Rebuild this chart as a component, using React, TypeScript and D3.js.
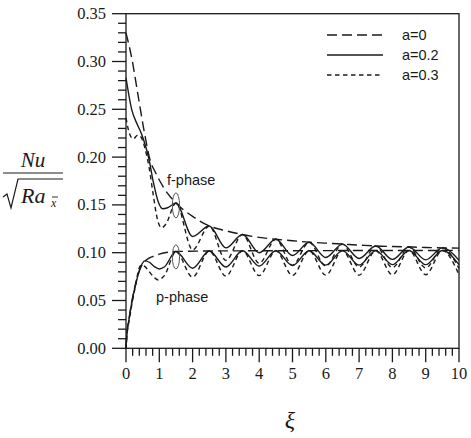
import * as d3 from "d3";

const WIDTH = 471;
const HEIGHT = 438;
const PLOT = { left: 126, right: 459, top: 13.7, bottom: 348.3 };

// xi, Nu / sqrt(Ra) pairs for the f-phase branch
const fPhaseA0: [number, number][] = [
  [0, 0.33], [0.17, 0.304], [0.37, 0.263], [0.52, 0.232], [0.74, 0.195],
  [0.87, 0.185], [1.0, 0.176], [1.25, 0.162], [1.5, 0.152], [2.0, 0.138],
  [2.5, 0.128], [3.0, 0.123], [3.5, 0.119], [4.0, 0.116], [4.5, 0.114],
  [5.0, 0.1125], [5.5, 0.111], [6.0, 0.11], [6.5, 0.109], [7.0, 0.108],
  [7.5, 0.107], [8.0, 0.1065], [8.5, 0.106], [9.0, 0.1055], [9.5, 0.105],
  [10, 0.1048],
];
const fPhaseA02: [number, number][] = [
  [0, 0.283], [0.17, 0.25], [0.34, 0.234], [0.47, 0.224], [0.6, 0.21],
  [0.7, 0.196], [0.82, 0.174], [0.97, 0.153], [1.1, 0.146], [1.25, 0.147],
  [1.5, 0.152], [2.0, 0.117], [2.5, 0.128], [3.0, 0.105], [3.5, 0.119],
  [4.0, 0.1], [4.5, 0.114], [5.0, 0.097], [5.5, 0.111], [6.0, 0.095],
  [6.5, 0.109], [7.0, 0.094], [7.5, 0.107], [8.0, 0.093], [8.5, 0.106],
  [9.0, 0.0925], [9.5, 0.105], [10, 0.092],
];
const fPhaseA03: [number, number][] = [
  [0, 0.241], [0.1, 0.225], [0.22, 0.219], [0.35, 0.223], [0.45, 0.221],
  [0.57, 0.209], [0.7, 0.188], [0.82, 0.16], [0.95, 0.134], [1.07, 0.126],
  [1.2, 0.13], [1.5, 0.152], [2.0, 0.103], [2.5, 0.128], [3.0, 0.092],
  [3.5, 0.119], [4.0, 0.089], [4.5, 0.114], [5.0, 0.087], [5.5, 0.111],
  [6.0, 0.086], [6.5, 0.109], [7.0, 0.085], [7.5, 0.107], [8.0, 0.0845],
  [8.5, 0.106], [9.0, 0.084], [9.5, 0.105], [10, 0.0835],
];

// p-phase branch
const pPhaseA0: [number, number][] = [
  [0, 0], [0.03, 0.016], [0.1, 0.033], [0.17, 0.048], [0.32, 0.072],
  [0.45, 0.085], [0.6, 0.092], [0.8, 0.096], [1.0, 0.0985], [1.25, 0.1005],
  [1.5, 0.1012], [2.5, 0.1018], [4, 0.102], [6, 0.1022], [8, 0.1023],
  [10, 0.1024],
];
const pPhaseA02: [number, number][] = [
  [0, 0], [0.03, 0.015], [0.1, 0.032], [0.17, 0.047], [0.32, 0.071],
  [0.45, 0.086], [0.57, 0.0915], [0.7, 0.09], [0.85, 0.0855], [1.0, 0.083],
  [1.15, 0.085], [1.5, 0.1012], [2.0, 0.0838], [2.5, 0.1018], [3.0, 0.085],
  [3.5, 0.102], [4.0, 0.086], [4.5, 0.102], [5.0, 0.0865], [5.5, 0.102],
  [6.0, 0.087], [6.5, 0.1022], [7.0, 0.087], [7.5, 0.1022], [8.0, 0.0875],
  [8.5, 0.1023], [9.0, 0.0875], [9.5, 0.1023], [10, 0.0875],
];
const pPhaseA03: [number, number][] = [
  [0, 0], [0.03, 0.014], [0.1, 0.03], [0.17, 0.045], [0.3, 0.068],
  [0.37, 0.081], [0.45, 0.087], [0.55, 0.086], [0.7, 0.08], [0.85, 0.074],
  [0.97, 0.0715], [1.15, 0.076], [1.5, 0.101], [2.0, 0.0745], [2.5, 0.1018],
  [3.0, 0.0755], [3.5, 0.102], [4.0, 0.076], [4.5, 0.102], [5.0, 0.0762],
  [5.5, 0.102], [6.0, 0.0765], [6.5, 0.1022], [7.0, 0.0765], [7.5, 0.1022],
  [8.0, 0.077], [8.5, 0.1023], [9.0, 0.077], [9.5, 0.1023], [10, 0.077],
];

const xTicks = [0, 1, 2, 3, 4, 5, 6, 7, 8, 9, 10];
const yTicks = [0, 0.05, 0.1, 0.15, 0.2, 0.25, 0.3, 0.35];
const legendLabels = ["a=0", "a=0.2", "a=0.3"];
const dashes = ["10,5", "none", "4.5,3.5"];

// marked peaks at xi = 1.5 (centre, half-height)
const markers: [number, number, number][] = [
  [1.5, 0.1495, 0.0131],
  [1.5, 0.0956, 0.0126],
];

const SERIF = "'Liberation Serif', 'Times New Roman', serif";
const SANS = "'Liberation Sans', Arial, sans-serif";
const INK = "#1a1a1a";

export default function App() {
  const x = d3.scaleLinear().domain([0, 10]).range([PLOT.left, PLOT.right]);
  const y = d3.scaleLinear().domain([0, 0.35]).range([PLOT.bottom, PLOT.top]);

  const line = d3
    .line<[number, number]>()
    .x((d) => x(d[0]))
    .y((d) => y(d[1]))
    .curve(d3.curveMonotoneX);

  const series = [
    { data: fPhaseA0, dash: dashes[0] },
    { data: fPhaseA02, dash: dashes[1] },
    { data: fPhaseA03, dash: dashes[2] },
    { data: pPhaseA0, dash: dashes[0] },
    { data: pPhaseA02, dash: dashes[1] },
    { data: pPhaseA03, dash: dashes[2] },
  ];

  const xMinor = d3.range(0, 50).map((i) => i * 0.2).filter((v, i) => i % 5 !== 0);
  const yMinor = d3.range(0, 35).map((i) => i * 0.01).filter((v, i) => i % 5 !== 0);

  return (
    <svg
      width={WIDTH}
      height={HEIGHT}
      style={{ position: "absolute", left: 0, top: 0, background: "#fff" }}
    >
      {/* curves */}
      <g fill="none" stroke={INK} strokeWidth={1.4}>
        {series.map((s, i) => (
          <path key={i} d={line(s.data) ?? ""} strokeDasharray={s.dash} />
        ))}
        {markers.map(([cx, cy, h], i) => (
          <ellipse
            key={i}
            cx={x(cx)}
            cy={y(cy)}
            rx={3.6}
            ry={y(0) - y(h)}
            stroke="#555"
            strokeWidth={1}
          />
        ))}
      </g>

      {/* frame */}
      <rect
        x={PLOT.left}
        y={PLOT.top}
        width={PLOT.right - PLOT.left}
        height={PLOT.bottom - PLOT.top}
        fill="none"
        stroke={INK}
        strokeWidth={1.3}
      />

      {/* ticks */}
      <g stroke={INK} strokeWidth={1.3}>
        {xTicks.map((t) => (
          <line key={t} x1={x(t)} x2={x(t)} y1={PLOT.bottom} y2={PLOT.bottom + 14} />
        ))}
        {xMinor.map((t) => (
          <line key={t} x1={x(t)} x2={x(t)} y1={PLOT.bottom} y2={PLOT.bottom + 7.5} />
        ))}
        {yTicks.map((t) => (
          <line key={t} x1={PLOT.left - 14} x2={PLOT.left} y1={y(t)} y2={y(t)} />
        ))}
        {yMinor.map((t) => (
          <line key={t} x1={PLOT.left - 8} x2={PLOT.left} y1={y(t)} y2={y(t)} />
        ))}
      </g>

      <g fontFamily={SERIF} fontSize={16.5} fill={INK}>
        {xTicks.map((t) => (
          <text key={t} x={x(t)} y={PLOT.bottom + 31} textAnchor="middle">
            {t}
          </text>
        ))}
        {yTicks.map((t) => (
          <text key={t} x={PLOT.left - 20} y={y(t) + 5.5} textAnchor="end">
            {t.toFixed(2)}
          </text>
        ))}
      </g>

      {/* axis titles */}
      <text
        x={290}
        y={428}
        textAnchor="middle"
        fontFamily={SERIF}
        fontStyle="italic"
        fontSize={24}
        fill={INK}
      >
        ξ
      </text>
      <g fill={INK} fontFamily={SERIF} fontStyle="italic">
        <text x={33} y={167} textAnchor="middle" fontSize={21}>
          Nu
        </text>
        <line x1={3} x2={63} y1={173} y2={173} stroke={INK} strokeWidth={1.2} />
        <path
          d="M3,197 L7,194 L11,208 L18,179 L63,179"
          fill="none"
          stroke={INK}
          strokeWidth={1.2}
        />
        <text x={21} y={203} fontSize={22}>
          Ra
        </text>
        <text x={51} y={207} fontSize={12}>
          x
        </text>
        <line x1={52} x2={58} y1={197} y2={197} stroke={INK} strokeWidth={0.9} />
      </g>

      {/* phase labels */}
      <g fontFamily={SANS} fontSize={14.5} fill={INK}>
        <text x={167} y={185}>f-phase</text>
        <text x={156} y={302}>p-phase</text>
      </g>

      {/* legend */}
      <g fontFamily={SANS} fontSize={14.5} fill={INK}>
        {legendLabels.map((label, i) => (
          <g key={label}>
            <line
              x1={327}
              x2={383}
              y1={35 + i * 20}
              y2={35 + i * 20}
              stroke={INK}
              strokeWidth={1.3}
              strokeDasharray={dashes[i]}
            />
            <text x={402} y={40 + i * 20}>
              {label}
            </text>
          </g>
        ))}
      </g>
    </svg>
  );
}
